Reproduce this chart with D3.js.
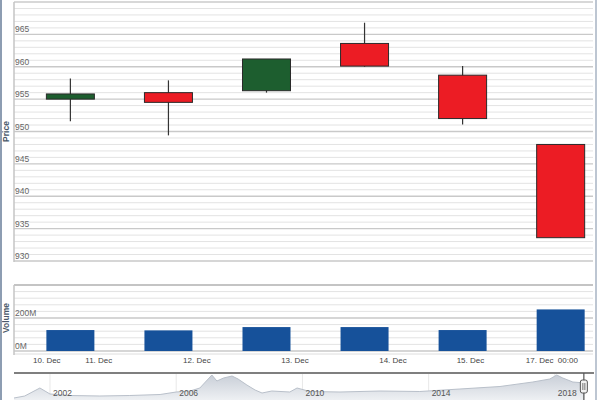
<!DOCTYPE html>
<html>
<head>
<meta charset="utf-8">
<script src="https://d3js.org/d3.v7.min.js"></script>
<style>
  body { margin: 0; background: #fff; }
  text { font-family: "Liberation Sans", Arial, sans-serif; }
</style>
</head>
<body>
<script>
// candles, one per trading day (index 0..5)
const opens   = [955.0, 956.0, 956.3, 963.6, 958.7, 948.0];
const highs   = [958.2, 957.9, 961.2, 966.8, 960.1, 948.0];
const lows    = [951.6, 949.4, 956.0, 960.0, 951.1, 933.6];
const closes  = [955.8, 954.5, 961.2, 960.1, 952.0, 933.6];
const volumes = [127, 125, 145, 145, 127, 252]; // millions

// x axis labels (ordinal axis, index units)
const tickLabels = ["10. Dec", "11. Dec", "12. Dec", "13. Dec", "14. Dec", "15. Dec", "17. Dec  00:00"];
const tickIndex  = [-0.24, 0.29, 1.29, 2.29, 3.29, 4.08, 4.91];

const priceTicks  = [930, 935, 940, 945, 950, 955, 960, 965];
const volumeTicks = [0, 200];

// navigator series (decimal year, value)
const navYears  = [2000.86, 2001.2, 2001.68, 2002.0, 2002.63, 2003.58, 2004.53, 2005.49, 2006.0, 2006.44,
                   2006.75, 2007.13, 2007.29, 2007.5, 2007.77, 2007.96, 2008.24, 2008.5, 2008.72, 2009.03,
                   2009.6, 2009.83, 2010.24, 2011.19, 2012.46, 2013.72, 2014.99, 2016.26, 2017.3, 2017.84,
                   2018.06, 2018.25, 2018.57, 2018.95];
const navValues = [160, 240, 560, 320, 260, 240, 260, 300, 400, 440,
                   560, 1080, 840, 960, 1040, 920, 680, 480, 360, 440,
                   400, 560, 420, 400, 440, 420, 520, 620, 800, 920,
                   1080, 960, 800, 760];
const navTicks = [2002, 2006, 2010, 2014, 2018];

var width = 600, height = 400;

const svg = d3.select("body").append("svg")
    .attr("width", width)
    .attr("height", height);

var x = d3.scaleLinear().domain([-0.575, 5.34]).range([14, 594]);
var yPrice = d3.scaleLinear().domain([930, 970]).range([261, 2]);
var yVol = d3.scaleLinear().domain([0, 400]).range([351, 285]);

var upColor = "#1d5e2f", downColor = "#ec1c24", volColor = "#16519a";

// ---- price panel grid
var price = svg.append("g");
price.selectAll("line.minor")
    .data(d3.range(931, 971, 1).filter(d => d % 5 != 0 || d == 970))
    .enter().append("line")
    .attr("x1", 14).attr("x2", 593)
    .attr("y1", d => yPrice(d)).attr("y2", d => yPrice(d))
    .style("stroke", "#e3e3e3").style("stroke-width", 1);
price.selectAll("line.major")
    .data(priceTicks)
    .enter().append("line")
    .attr("x1", 14).attr("x2", 593)
    .attr("y1", d => yPrice(d)).attr("y2", d => yPrice(d))
    .style("stroke", "#c9c9c9").style("stroke-width", 1.3);
price.append("line")
    .attr("x1", 14).attr("x2", 593)
    .attr("y1", yPrice(970)).attr("y2", yPrice(970))
    .style("stroke", "#cfcfcf").style("stroke-width", 1.5);
price.append("line")
    .attr("x1", 14).attr("x2", 14)
    .attr("y1", yPrice(970)).attr("y2", yPrice(930) + 1)
    .style("stroke", "#c4c4c4").style("stroke-width", 1.5);
price.selectAll("text")
    .data(priceTicks)
    .enter().append("text")
    .attr("x", 15)
    .attr("y", d => yPrice(d) - 2)
    .style("font-size", "8.5px")
    .style("fill", "#666")
    .text(d => d);

// ---- candles
var idx = d3.range(opens.length);
var bodyW = 48;
var candles = svg.append("g");
candles.selectAll("line")
    .data(idx)
    .enter().append("line")
    .attr("x1", i => x(i)).attr("x2", i => x(i))
    .attr("y1", i => yPrice(highs[i])).attr("y2", i => yPrice(lows[i]))
    .style("stroke", "#333").style("stroke-width", 1.2);
candles.selectAll("rect")
    .data(idx)
    .enter().append("rect")
    .attr("x", i => x(i) - bodyW / 2)
    .attr("width", bodyW)
    .attr("y", i => yPrice(Math.max(opens[i], closes[i])))
    .attr("height", i => Math.abs(yPrice(opens[i]) - yPrice(closes[i])))
    .style("fill", i => closes[i] >= opens[i] ? upColor : downColor)
    .style("stroke", "#2a2a2a").style("stroke-width", 1);

// ---- volume panel
var vol = svg.append("g");
vol.selectAll("line.minor")
    .data([40, 80, 120, 160, 240, 280, 320, 360])
    .enter().append("line")
    .attr("x1", 14).attr("x2", 593)
    .attr("y1", d => yVol(d)).attr("y2", d => yVol(d))
    .style("stroke", "#e3e3e3");
vol.selectAll("line.major")
    .data(volumeTicks)
    .enter().append("line")
    .attr("x1", 14).attr("x2", 593)
    .attr("y1", d => yVol(d)).attr("y2", d => yVol(d))
    .style("stroke", "#c9c9c9").style("stroke-width", 1.3);
vol.append("line")
    .attr("x1", 14).attr("x2", 593)
    .attr("y1", yVol(400)).attr("y2", yVol(400))
    .style("stroke", "#c4c4c4").style("stroke-width", 2);
vol.append("line")
    .attr("x1", 14).attr("x2", 593)
    .attr("y1", 354).attr("y2", 354)
    .style("stroke", "#dedede");
vol.append("line")
    .attr("x1", 14).attr("x2", 14)
    .attr("y1", yVol(400)).attr("y2", 355)
    .style("stroke", "#c4c4c4").style("stroke-width", 1.5);
vol.selectAll("rect")
    .data(idx)
    .enter().append("rect")
    .attr("x", i => x(i) - bodyW / 2)
    .attr("width", bodyW)
    .attr("y", i => yVol(volumes[i]))
    .attr("height", i => yVol(0) - yVol(volumes[i]))
    .style("fill", volColor);
vol.selectAll("text")
    .data(volumeTicks)
    .enter().append("text")
    .attr("x", 15)
    .attr("y", d => yVol(d) - 2)
    .style("font-size", "8.5px")
    .style("fill", "#666")
    .text(d => d + "M");

// ---- x axis labels
svg.append("g").selectAll("text")
    .data(tickIndex)
    .enter().append("text")
    .attr("x", d => x(d))
    .attr("y", 363)
    .attr("text-anchor", "middle")
    .style("font-size", "8px")
    .style("fill", "#444")
    .style("white-space", "pre")
    .text((d, i) => tickLabels[i]);

// ---- axis titles
svg.append("text")
    .attr("transform", "translate(9," + yPrice(950) + ") rotate(-90)")
    .attr("text-anchor", "middle")
    .style("font-size", "8.5px").style("font-weight", "bold").style("fill", "#4a586a")
    .text("Price");
svg.append("text")
    .attr("transform", "translate(9," + yVol(200) + ") rotate(-90)")
    .attr("text-anchor", "middle")
    .style("font-size", "8.5px").style("font-weight", "bold").style("fill", "#4a586a")
    .text("Volume");

// ---- navigator
var xNav = d3.scaleLinear().domain([2000.86, 2019.24]).range([14, 594]);
var yNav = d3.scaleLinear().domain([0, 1200]).range([402, 372]);
var nav = svg.append("g");
nav.selectAll("line.grid")
    .data(navTicks)
    .enter().append("line")
    .attr("x1", d => xNav(d)).attr("x2", d => xNav(d))
    .attr("y1", 374).attr("y2", 400)
    .style("stroke", "#e8e8e8");
var grad = svg.append("defs").append("linearGradient")
    .attr("id", "navfill").attr("x1", 0).attr("x2", 0).attr("y1", 0).attr("y2", 1);
grad.append("stop").attr("offset", "0%").attr("stop-color", "#c9cfd8");
grad.append("stop").attr("offset", "100%").attr("stop-color", "#eef0f3");
var area = d3.area()
    .x((d, i) => xNav(navYears[i]))
    .y0(400)
    .y1(d => yNav(d));
var line = d3.line()
    .x((d, i) => xNav(navYears[i]))
    .y(d => yNav(d));
nav.append("path").attr("d", area(navValues)).style("fill", "url(#navfill)");
nav.append("path").attr("d", line(navValues))
    .style("fill", "none").style("stroke", "#b9c0ca").style("stroke-width", 1);
nav.selectAll("text")
    .data(navTicks)
    .enter().append("text")
    .attr("x", d => xNav(d) + 3)
    .attr("y", 396)
    .style("font-size", "8.5px")
    .style("fill", "#555")
    .text(d => d);
nav.append("line")
    .attr("x1", 14).attr("x2", 594)
    .attr("y1", 373).attr("y2", 373)
    .style("stroke", "#555").style("stroke-width", 1.5);
// handle
var hx = xNav(2018.95) - 1;
nav.append("line")
    .attr("x1", hx).attr("x2", hx).attr("y1", 373).attr("y2", 400)
    .style("stroke", "#555").style("stroke-width", 1.2);
nav.append("rect")
    .attr("x", hx - 3.5).attr("y", 380).attr("width", 7).attr("height", 13)
    .attr("rx", 2)
    .style("fill", "#f2f2f2").style("stroke", "#555").style("stroke-width", 1);
nav.selectAll("line.grip")
    .data([-1, 1])
    .enter().append("line")
    .attr("x1", d => hx + d).attr("x2", d => hx + d)
    .attr("y1", 383).attr("y2", 390)
    .style("stroke", "#555").style("stroke-width", 0.8);

// ---- outer frame
svg.append("line").attr("x1", 1).attr("x2", 1).attr("y1", 0).attr("y2", 400)
    .style("stroke", "#8d9db2").style("stroke-width", 2);
svg.append("line").attr("x1", 596).attr("x2", 596).attr("y1", 0).attr("y2", 400)
    .style("stroke", "#a7b3c3").style("stroke-width", 1.5);
</script>
</body>
</html>
